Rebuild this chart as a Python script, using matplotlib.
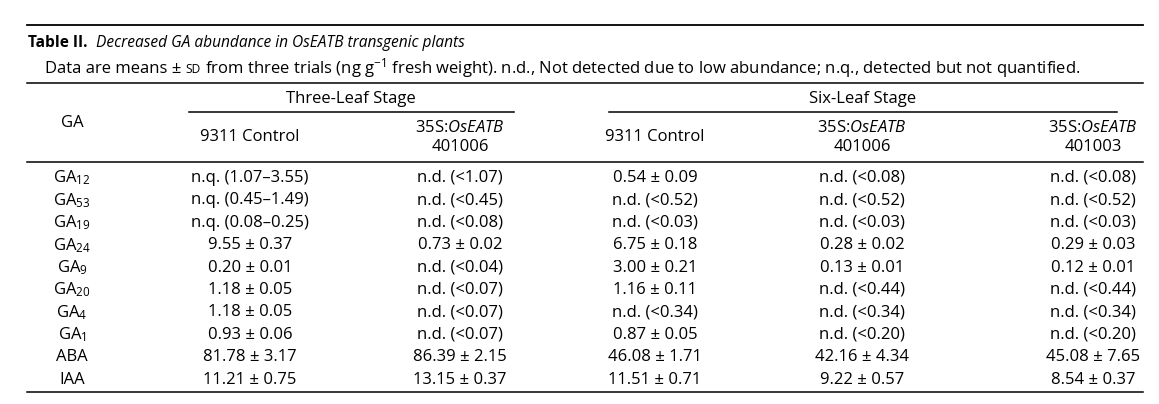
import matplotlib
matplotlib.use("Agg")
import matplotlib.pyplot as plt
from matplotlib.lines import Line2D

plt.rcParams['font.family'] = ['Open Sans', 'DejaVu Sans']
plt.rcParams['mathtext.fontset'] = 'custom'
plt.rcParams['mathtext.rm'] = 'Open Sans'
plt.rcParams['mathtext.it'] = 'Open Sans:italic'
plt.rcParams['mathtext.bf'] = 'Open Sans:bold'

# --- table content ---
compounds = ["GA$_{12}$", "GA$_{53}$", "GA$_{19}$", "GA$_{24}$", "GA$_{9}$",
             "GA$_{20}$", "GA$_{4}$", "GA$_{1}$", "ABA", "IAA"]
three_control = ["n.q. (1.07–3.55)", "n.q. (0.45–1.49)", "n.q. (0.08–0.25)",
                 "9.55 ± 0.37", "0.20 ± 0.01", "1.18 ± 0.05", "1.18 ± 0.05",
                 "0.93 ± 0.06", "81.78 ± 3.17", "11.21 ± 0.75"]
three_401006 = ["n.d. (<1.07)", "n.d. (<0.45)", "n.d. (<0.08)", "0.73 ± 0.02",
                "n.d. (<0.04)", "n.d. (<0.07)", "n.d. (<0.07)", "n.d. (<0.07)",
                "86.39 ± 2.15", "13.15 ± 0.37"]
six_control = ["0.54 ± 0.09", "n.d. (<0.52)", "n.d. (<0.03)", "6.75 ± 0.18",
               "3.00 ± 0.21", "1.16 ± 0.11", "n.d. (<0.34)", "0.87 ± 0.05",
               "46.08 ± 1.71", "11.51 ± 0.71"]
six_401006 = ["n.d. (<0.08)", "n.d. (<0.52)", "n.d. (<0.03)", "0.28 ± 0.02",
              "0.13 ± 0.01", "n.d. (<0.44)", "n.d. (<0.34)", "n.d. (<0.20)",
              "42.16 ± 4.34", "9.22 ± 0.57"]
six_401003 = ["n.d. (<0.08)", "n.d. (<0.52)", "n.d. (<0.03)", "0.29 ± 0.03",
              "0.12 ± 0.01", "n.d. (<0.44)", "n.d. (<0.34)", "n.d. (<0.20)",
              "45.08 ± 7.65", "8.54 ± 0.37"]
stages = ["Three-Leaf Stage", "Six-Leaf Stage"]
line_names = ["9311 Control", "35S:$\\it{OsEATB}$", "9311 Control",
              "35S:$\\it{OsEATB}$", "35S:$\\it{OsEATB}$"]
line_ids = ["", "401006", "", "401006", "401003"]

columns = [three_control, three_401006, six_control, six_401006, six_401003]

W, H = 1159, 404
FS = 12.0

fig = plt.figure(figsize=(W / 100, H / 100), dpi=100)
ax = fig.add_axes([0, 0, 1, 1])
ax.set_xlim(0, W)
ax.set_ylim(H, 0)
ax.axis('off')


def hline(x0, x1, y, lw=1.1):
    ax.add_line(Line2D([x0, x1], [y, y], color='black', lw=lw))


def runs(x, y, parts):
    """Draw text pieces one after another on a common baseline."""
    r = fig.canvas.get_renderer()
    for s, kw in parts:
        style = dict(fontsize=FS)
        style.update(kw)
        t = ax.text(x, y, s, ha='left', va='baseline', **style)
        x += t.get_window_extent(r).width


# caption
runs(28, 47, [("Table II.", dict(fontweight='bold', fontsize=11.2)),
              ("  Decreased GA abundance in OsEATB transgenic plants",
               dict(style='italic', fontsize=11.2))])
runs(45, 73, [("Data are means ± ", {}),
              ("SD", dict(fontsize=FS * 0.72)),
              (" from three trials (ng g$^{-1}$ fresh weight). n.d., Not detected "
               "due to low abundance; n.q., detected but not quantified.", {})])

# rules
hline(27, 1143, 24.5, lw=1.3)
hline(27, 1143, 83)
hline(189, 514, 112)
hline(609, 1117, 112)
hline(27, 1143, 161.5)
hline(27, 1143, 391.5)

# header
col_x = [250, 460, 655, 862, 1093]
stage_x = [351, 863]
for sx, s in zip(stage_x, stages):
    ax.text(sx, 99, s, ha='center', va='center', fontsize=FS)
ax.text(72, 123, "GA", ha='center', va='center', fontsize=FS)
for cx, name, lid in zip(col_x, line_names, line_ids):
    if lid:
        ax.text(cx, 128, name, ha='center', va='center', fontsize=FS)
        ax.text(cx, 147, lid, ha='center', va='center', fontsize=FS)
    else:
        ax.text(cx, 137, name, ha='center', va='center', fontsize=FS)

# body
row_y0, row_dy = 178, 22.4
for i, c in enumerate(compounds):
    y = row_y0 + i * row_dy
    ax.text(72, y, c, ha='center', va='center', fontsize=FS)
    for cx, col in zip(col_x, columns):
        ax.text(cx, y, col[i], ha='center', va='center', fontsize=FS)

fig.savefig("out.png", dpi=100, facecolor='white')
